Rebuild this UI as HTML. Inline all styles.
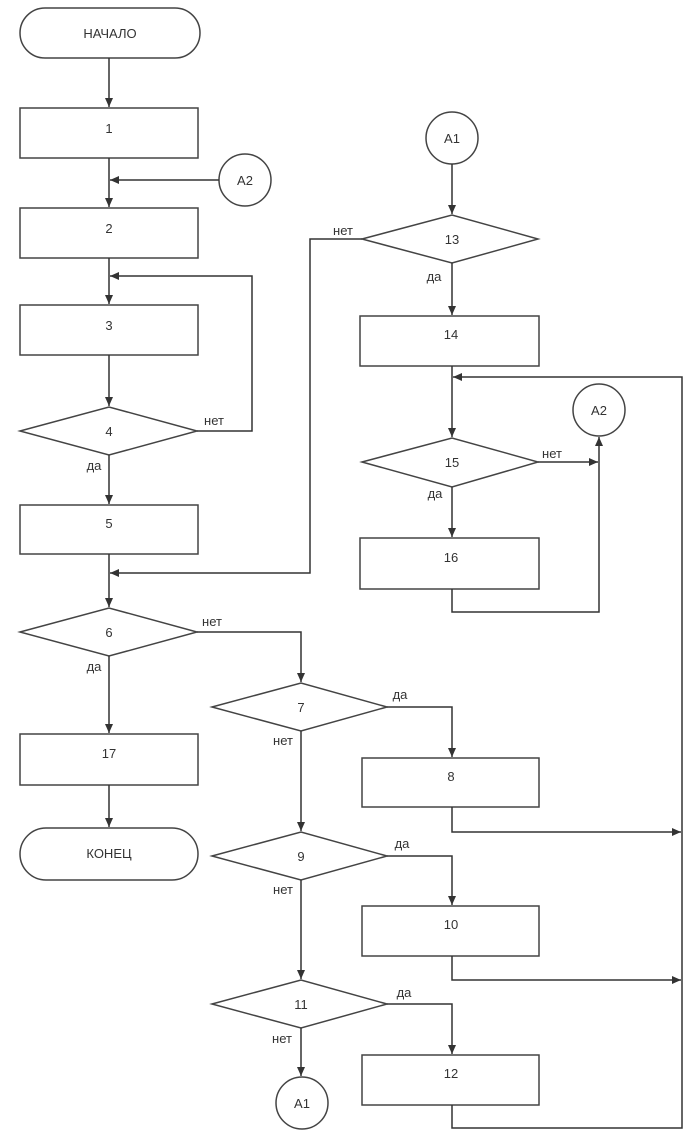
<!DOCTYPE html>
<html><head><meta charset="utf-8"><style>html,body{margin:0;padding:0;background:#fff}svg{display:block}</style></head><body>
<svg width="696" height="1146" viewBox="0 0 696 1146" xmlns="http://www.w3.org/2000/svg">
<defs><marker id="a" markerWidth="10" markerHeight="10" refX="9" refY="5" orient="auto" markerUnits="userSpaceOnUse"><path d="M0,1 L9,5 L0,9 z" fill="#333"/></marker></defs>
<g fill="#fff" stroke="#444" stroke-width="1.5">
<rect x="20" y="8" width="180" height="50" rx="25"/>
<rect x="20" y="108" width="178" height="50"/>
<circle cx="245" cy="180" r="26"/>
<rect x="20" y="208" width="178" height="50"/>
<rect x="20" y="305" width="178" height="50"/>
<polygon points="20,431 109,407 197,431 109,455"/>
<rect x="20" y="505" width="178" height="49"/>
<polygon points="20,632 109,608 197,632 109,656"/>
<rect x="20" y="734" width="178" height="51"/>
<rect x="20" y="828" width="178" height="52" rx="26"/>
<polygon points="212,707 301,683 387,707 301,731"/>
<rect x="362" y="758" width="177" height="49"/>
<polygon points="212,856 301,832 387,856 301,880"/>
<rect x="362" y="906" width="177" height="50"/>
<polygon points="212,1004 301,980 387,1004 301,1028"/>
<rect x="362" y="1055" width="177" height="50"/>
<circle cx="302" cy="1103" r="26"/>
<circle cx="452" cy="138" r="26"/>
<polygon points="362,239 452,215 538,239 452,263"/>
<rect x="360" y="316" width="179" height="50"/>
<circle cx="599" cy="410" r="26"/>
<polygon points="362,462 452,438 538,462 452,487"/>
<rect x="360" y="538" width="179" height="51"/>
</g>
<g fill="none" stroke="#333" stroke-width="1.5">
<line x1="109" y1="58" x2="109" y2="107" marker-end="url(#a)"/>
<line x1="109" y1="158" x2="109" y2="207" marker-end="url(#a)"/>
<line x1="219" y1="180" x2="110" y2="180" marker-end="url(#a)"/>
<line x1="109" y1="258" x2="109" y2="304" marker-end="url(#a)"/>
<polyline points="197,431 252,431 252,276 110,276" marker-end="url(#a)"/>
<line x1="109" y1="355" x2="109" y2="406" marker-end="url(#a)"/>
<line x1="109" y1="455" x2="109" y2="504" marker-end="url(#a)"/>
<line x1="109" y1="554" x2="109" y2="607" marker-end="url(#a)"/>
<polyline points="362,239 310,239 310,573 110,573" marker-end="url(#a)"/>
<line x1="109" y1="656" x2="109" y2="733" marker-end="url(#a)"/>
<line x1="109" y1="785" x2="109" y2="827" marker-end="url(#a)"/>
<polyline points="197,632 301,632 301,682" marker-end="url(#a)"/>
<polyline points="387,707 452,707 452,757" marker-end="url(#a)"/>
<line x1="301" y1="731" x2="301" y2="831" marker-end="url(#a)"/>
<polyline points="452,807 452,832 681,832" marker-end="url(#a)"/>
<polyline points="387,856 452,856 452,905" marker-end="url(#a)"/>
<line x1="301" y1="880" x2="301" y2="979" marker-end="url(#a)"/>
<polyline points="452,956 452,980 681,980" marker-end="url(#a)"/>
<polyline points="387,1004 452,1004 452,1054" marker-end="url(#a)"/>
<line x1="301" y1="1028" x2="301" y2="1076" marker-end="url(#a)"/>
<polyline points="452,1105 452,1128 682,1128 682,377 453,377" marker-end="url(#a)"/>
<line x1="452" y1="164" x2="452" y2="214" marker-end="url(#a)"/>
<line x1="452" y1="263" x2="452" y2="315" marker-end="url(#a)"/>
<line x1="452" y1="366" x2="452" y2="437" marker-end="url(#a)"/>
<line x1="538" y1="462" x2="598" y2="462" marker-end="url(#a)"/>
<line x1="452" y1="487" x2="452" y2="537" marker-end="url(#a)"/>
<polyline points="452,589 452,612 599,612 599,437" marker-end="url(#a)"/>
</g>
<g font-family="Liberation Sans, DejaVu Sans, sans-serif" font-size="13" fill="#333" text-anchor="middle">
<text x="110" y="38">НАЧАЛО</text>
<text x="109" y="133">1</text>
<text x="245" y="185">A2</text>
<text x="109" y="233">2</text>
<text x="109" y="330">3</text>
<text x="109" y="436">4</text>
<text x="109" y="528">5</text>
<text x="109" y="637">6</text>
<text x="109" y="758">17</text>
<text x="109" y="858">КОНЕЦ</text>
<text x="301" y="712">7</text>
<text x="451" y="781">8</text>
<text x="301" y="861">9</text>
<text x="451" y="929">10</text>
<text x="301" y="1009">11</text>
<text x="451" y="1078">12</text>
<text x="302" y="1108">A1</text>
<text x="452" y="143">A1</text>
<text x="452" y="244">13</text>
<text x="451" y="339">14</text>
<text x="599" y="415">A2</text>
<text x="452" y="467">15</text>
<text x="451" y="562">16</text>
<text x="214" y="425">нет</text>
<text x="94" y="470">да</text>
<text x="94" y="671">да</text>
<text x="212" y="626">нет</text>
<text x="400" y="699">да</text>
<text x="283" y="745">нет</text>
<text x="402" y="848">да</text>
<text x="283" y="894">нет</text>
<text x="404" y="997">да</text>
<text x="282" y="1043">нет</text>
<text x="343" y="235">нет</text>
<text x="434" y="281">да</text>
<text x="552" y="458">нет</text>
<text x="435" y="498">да</text>
</g>
</svg>
</body></html>
